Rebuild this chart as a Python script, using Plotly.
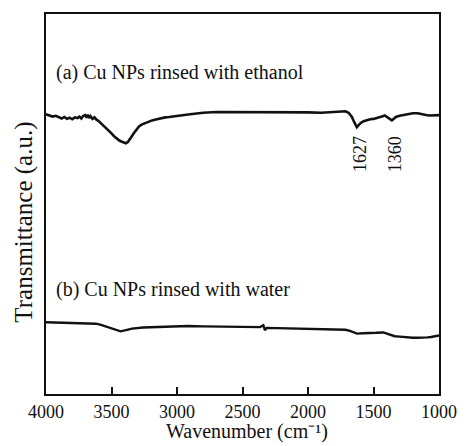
import plotly.graph_objects as go

# Curve (a): Cu NPs rinsed with ethanol
wn_a = [4000, 3975, 3950, 3925, 3900, 3880, 3860, 3840, 3820, 3800, 3780, 3760, 3745, 3730,
        3715, 3700, 3690, 3680, 3670, 3660, 3645, 3630, 3615, 3600, 3580, 3560, 3540, 3520,
        3500, 3480, 3460, 3440, 3420, 3405, 3390, 3375, 3360, 3345, 3330, 3310, 3290, 3270,
        3250, 3230, 3210, 3190, 3170, 3150, 3120, 3090, 3060, 3030, 3000, 2970, 2940, 2900,
        2850, 2800, 2700, 2600, 2500, 2400, 2300, 2200, 2100, 2000, 1900, 1840, 1780, 1740,
        1714, 1690, 1665, 1645, 1627, 1612, 1595, 1575, 1550, 1525, 1500, 1475, 1450, 1430,
        1414, 1395, 1376, 1360, 1345, 1330, 1300, 1263, 1230, 1200, 1163, 1130, 1100, 1070,
        1040, 1000]
tr_a = [73.6, 73.3, 73.0, 73.2, 72.8, 72.5, 72.9, 72.4, 72.7, 72.3, 72.8, 72.6, 73.0, 72.5,
        73.2, 73.4, 72.7, 73.5, 72.6, 73.1, 72.4, 72.8, 72.2, 71.9, 71.2, 70.6, 70.0, 69.3,
        68.6, 67.8, 67.2, 66.7, 66.4, 66.1, 66.0, 66.3, 66.9, 67.8, 68.6, 69.6, 70.4, 70.9,
        71.2, 71.6, 71.8, 72.0, 72.2, 72.4, 72.6, 72.8, 72.9, 73.0, 73.1, 73.3, 73.4, 73.6,
        73.8, 74.0, 74.2, 74.2, 74.2, 74.2, 74.1, 74.1, 74.1, 74.1, 74.0, 74.1, 74.2, 74.4,
        74.4, 74.0, 72.9, 71.4, 70.2, 70.8, 71.4, 71.8, 72.1, 72.3, 72.4, 72.6, 72.8, 73.1,
        73.3, 72.9, 72.3, 72.0, 72.4, 72.9, 73.2, 73.4, 73.7, 73.9, 73.9, 73.6, 73.4, 73.3,
        73.3, 73.4]

# Curve (b): Cu NPs rinsed with water
wn_b = [4000, 3900, 3794, 3700, 3619, 3580, 3544, 3490, 3431, 3390, 3343, 3260, 3168, 3050,
        2917, 2800, 2667, 2500, 2366, 2341, 2329, 2316, 2200, 2040, 1900, 1780, 1714, 1680,
        1650, 1626, 1580, 1538, 1480, 1425, 1390, 1360, 1338, 1300, 1250, 1200, 1163, 1120,
        1088, 1060, 1038, 1000]
tr_b = [18.9, 18.8, 18.7, 18.6, 18.5, 18.2, 17.8, 17.1, 16.5, 16.8, 17.2, 17.5, 17.6, 17.8,
        17.9, 17.8, 17.7, 17.6, 17.6, 18.1, 16.8, 17.4, 17.3, 17.2, 17.0, 16.9, 16.9, 16.6,
        16.2, 15.9, 16.0, 16.0, 16.1, 16.2, 15.8, 15.3, 15.2, 15.1, 14.9, 14.8, 14.8, 14.8,
        14.9, 15.0, 15.2, 15.4]

x_ticks = [4000, 3500, 3000, 2500, 2000, 1500, 1000]
label_a = "(a) Cu NPs rinsed with ethanol"
label_b = "(b) Cu NPs rinsed with water"
peak_labels = ["1627", "1360"]
peak_pos = [1605, 1335]

FONT = "Liberation Serif, Times New Roman, serif"

fig = go.Figure()
fig.add_trace(go.Scatter(x=wn_a, y=tr_a, mode="lines",
                         line=dict(color="#111111", width=2.6), showlegend=False))
fig.add_trace(go.Scatter(x=wn_b, y=tr_b, mode="lines",
                         line=dict(color="#111111", width=2.4), showlegend=False))

fig.add_annotation(x=3940, y=84.6, text=label_a, showarrow=False, xanchor="left",
                   yanchor="middle", font=dict(family=FONT, size=20, color="#111"))
fig.add_annotation(x=3940, y=27.5, text=label_b, showarrow=False, xanchor="left",
                   yanchor="middle", font=dict(family=FONT, size=20, color="#111"))
for t, p in zip(peak_labels, peak_pos):
    fig.add_annotation(x=p, y=63.1, text=t, showarrow=False, textangle=-90,
                       xanchor="center", yanchor="middle",
                       font=dict(family=FONT, size=18, color="#111"))

# axis titles as annotations
fig.add_annotation(x=-0.055, y=0.452, xref="paper", yref="paper",
                   text="Transmittance (a.u.)", showarrow=False, textangle=-90,
                   xanchor="center", yanchor="middle",
                   font=dict(family=FONT, size=25, color="#111"))
fig.add_annotation(x=0.511, y=-0.1345, xref="paper", yref="paper",
                   text="Wavenumber (cm\u207b\u00b9)", showarrow=False,
                   xanchor="center", yanchor="bottom",
                   font=dict(family=FONT, size=20, color="#111"))

fig.update_layout(
    width=469, height=446,
    margin=dict(l=46, r=24, t=12, b=52),
    paper_bgcolor="white", plot_bgcolor="white",
    font=dict(family=FONT, color="#111"),
)
fig.update_xaxes(range=[4000, 1000], tickvals=x_ticks,
                 ticktext=[str(v) for v in x_ticks],
                 ticks="inside", ticklen=7, tickwidth=1.5, tickcolor="#111",
                 showline=True, linecolor="#111", linewidth=2, mirror=True,
                 showgrid=False, zeroline=False,
                 tickfont=dict(family=FONT, size=18, color="#111"))
fig.update_yaxes(range=[0, 100], showticklabels=False, ticks="",
                 showline=True, linecolor="#111", linewidth=2, mirror=True,
                 showgrid=False, zeroline=False)

fig.write_html("out.html")
